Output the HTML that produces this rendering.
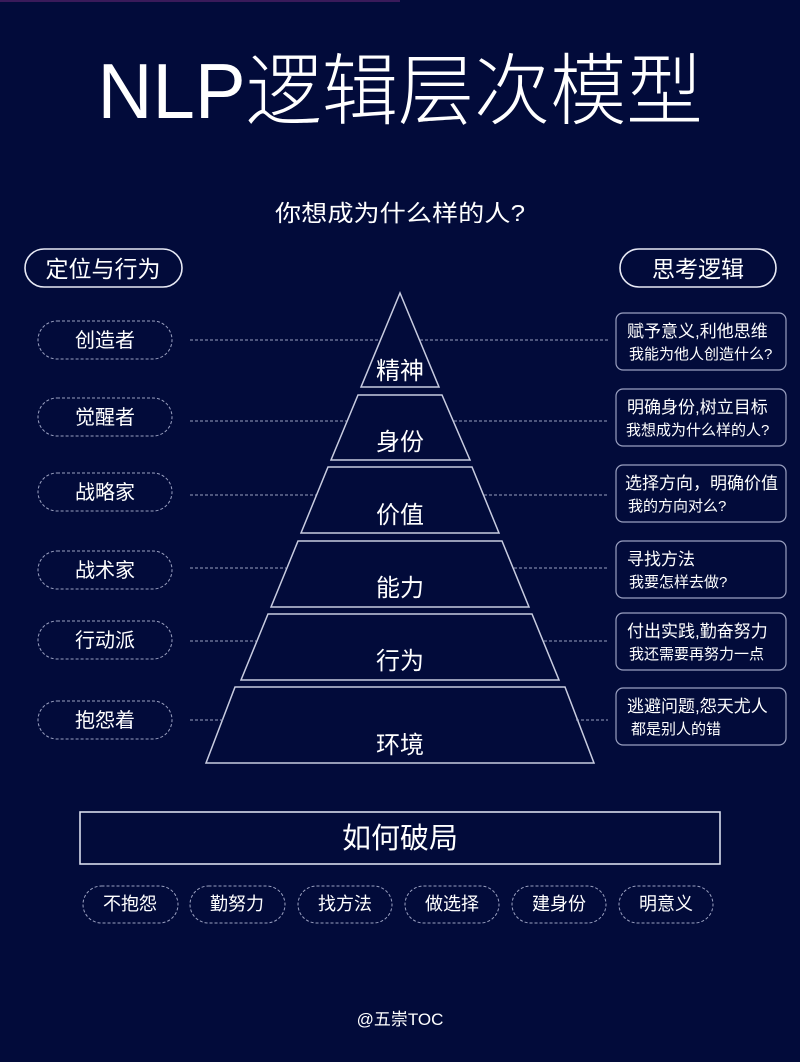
<!DOCTYPE html>
<html><head><meta charset="utf-8"><style>
html,body{margin:0;padding:0;background:#020b3a;}
svg text{font-family:"Liberation Sans","Noto Sans CJK SC",sans-serif;fill:#fff;}
</style></head><body>
<svg width="800" height="1057" viewBox="0 0 800 1057" xmlns="http://www.w3.org/2000/svg">
<rect width="800" height="1057" fill="#020b3a"/>
<rect x="0" y="0" width="400" height="2" fill="#3a1a5a"/>
<text x="400" y="118" font-size="78" text-anchor="middle" font-weight="300" textLength="605" lengthAdjust="spacingAndGlyphs">NLP逻辑层次模型</text>
<text x="400" y="221" font-size="23" text-anchor="middle" fill="#e8eaf5" textLength="250" lengthAdjust="spacingAndGlyphs">你想成为什么样的人?</text>
<g fill="none" stroke="#e8eaf5" stroke-width="1.6">
<rect x="25" y="249" width="157" height="38" rx="19"/>
<rect x="620" y="249" width="156" height="38" rx="19"/>
</g>
<text x="103" y="277" font-size="23" text-anchor="middle">定位与行为</text>
<text x="698" y="277" font-size="23" text-anchor="middle">思考逻辑</text>
<g fill="none" stroke="#c8cce0" stroke-width="1.5">
<polygon points="400,293 439,387 361,387"/>
<polygon points="358,395 442,395 470,460 331,460"/>
<polygon points="328,467 472,467 499,533 301,533"/>
<polygon points="298,541 502,541 529,607 271,607"/>
<polygon points="268,614 532,614 559,680 241,680"/>
<polygon points="235,687 565,687 594,763 206,763"/>
</g>
<g font-size="24" text-anchor="middle">
<text x="400" y="379">精神</text>
<text x="400" y="450">身份</text>
<text x="400" y="523">价值</text>
<text x="400" y="596">能力</text>
<text x="400" y="669">行为</text>
<text x="400" y="753">环境</text>
</g>
<g stroke="#9aa0c0" stroke-width="1" stroke-dasharray="3,2">
<line x1="190" y1="340" x2="380" y2="340"/><line x1="420" y1="340" x2="608" y2="340"/>
<line x1="190" y1="421" x2="347" y2="421"/><line x1="454" y1="421" x2="608" y2="421"/>
<line x1="190" y1="495" x2="316" y2="495"/><line x1="484" y1="495" x2="608" y2="495"/>
<line x1="190" y1="568" x2="286" y2="568"/><line x1="514" y1="568" x2="608" y2="568"/>
<line x1="190" y1="641" x2="256" y2="641"/><line x1="544" y1="641" x2="608" y2="641"/>
<line x1="190" y1="720" x2="224" y2="720"/><line x1="576" y1="720" x2="608" y2="720"/>
</g>
<g fill="none" stroke="#9aa0c0" stroke-width="1" stroke-dasharray="3,2">
<rect x="38" y="321" width="134" height="38" rx="19"/>
<rect x="38" y="398" width="134" height="38" rx="19"/>
<rect x="38" y="473" width="134" height="38" rx="19"/>
<rect x="38" y="551" width="134" height="38" rx="19"/>
<rect x="38" y="621" width="134" height="38" rx="19"/>
<rect x="38" y="701" width="134" height="38" rx="19"/>
</g>
<g font-size="20" text-anchor="middle" fill="#eef">
<text x="105" y="347">创造者</text>
<text x="105" y="424">觉醒者</text>
<text x="105" y="499">战略家</text>
<text x="105" y="577">战术家</text>
<text x="105" y="647">行动派</text>
<text x="105" y="727">抱怨着</text>
</g>
<g fill="none" stroke="#9aa0c0" stroke-width="1.2">
<rect x="616" y="313" width="170" height="57" rx="7"/>
<rect x="616" y="389" width="170" height="57" rx="7"/>
<rect x="616" y="465" width="170" height="57" rx="7"/>
<rect x="616" y="541" width="170" height="57" rx="7"/>
<rect x="616" y="613" width="170" height="57" rx="7"/>
<rect x="616" y="688" width="170" height="57" rx="7"/>
</g>
<g font-size="17">
<text x="627" y="337">赋予意义,利他思维</text>
<text x="627" y="413">明确身份,树立目标</text>
<text x="625" y="489">选择方向，明确价值</text>
<text x="627" y="565">寻找方法</text>
<text x="627" y="637">付出实践,勤奋努力</text>
<text x="627" y="712">逃避问题,怨天尤人</text>
</g>
<g font-size="15" fill="#c8cce0">
<text x="629" y="359">我能为他人创造什么?</text>
<text x="626" y="435">我想成为什么样的人?</text>
<text x="628" y="511">我的方向对么?</text>
<text x="629" y="587">我要怎样去做?</text>
<text x="629" y="659">我还需要再努力一点</text>
<text x="631" y="734">都是别人的错</text>
</g>
<rect x="80" y="812" width="640" height="52" fill="none" stroke="#d8dcec" stroke-width="1.6"/>
<text x="400" y="848" font-size="29" text-anchor="middle">如何破局</text>
<g fill="none" stroke="#9aa0c0" stroke-width="1" stroke-dasharray="3,2">
<rect x="83" y="886" width="95" height="37" rx="18.5"/>
<rect x="190" y="886" width="95" height="37" rx="18.5"/>
<rect x="298" y="886" width="94" height="37" rx="18.5"/>
<rect x="405" y="886" width="94" height="37" rx="18.5"/>
<rect x="512" y="886" width="94" height="37" rx="18.5"/>
<rect x="619" y="886" width="94" height="37" rx="18.5"/>
</g>
<g font-size="18" text-anchor="middle" fill="#eef">
<text x="130" y="910">不抱怨</text>
<text x="237" y="910">勤努力</text>
<text x="345" y="910">找方法</text>
<text x="452" y="910">做选择</text>
<text x="559" y="910">建身份</text>
<text x="666" y="910">明意义</text>
</g>
<text x="400" y="1025" font-size="17" text-anchor="middle" fill="#dde">@五崇TOC</text>
</svg>
</body></html>
